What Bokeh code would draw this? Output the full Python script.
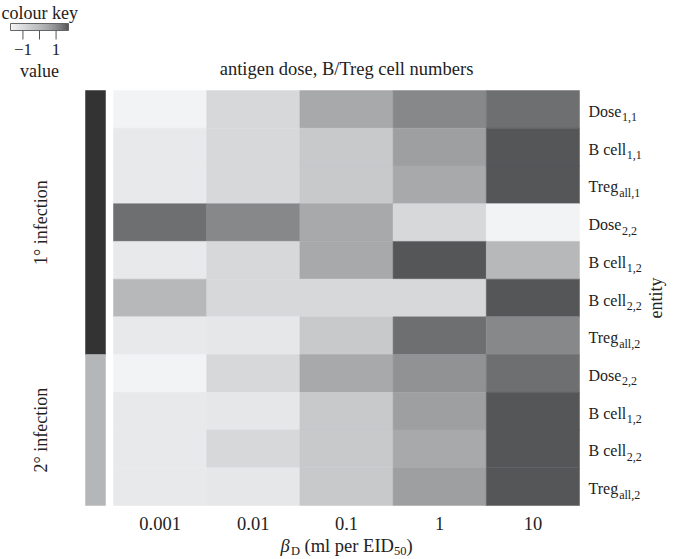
import numpy as np
from bokeh.plotting import figure
from bokeh.models import Range1d, ColumnDataSource, LinearColorMapper
from bokeh.transform import transform
from bokeh.core.properties import value
from bokeh.embed import file_html
from bokeh.resources import INLINE

# ---------------- data ----------------
doses = ["0.001", "0.01", "0.1", "1", "10"]
entity_main = ["Dose", "B cell", "Treg", "Dose", "B cell", "B cell", "Treg",
               "Dose", "B cell", "B cell", "Treg"]
entity_sub = ["1,1", "1,1", "all,1", "2,2", "1,2", "2,2", "all,2",
              "2,2", "1,2", "2,2", "all,2"]
groups = ["1\u00b0 infection", "2\u00b0 infection"]
group_sizes = [7, 4]
group_colors = ["#333333", "#b5b6b8"]

row_dose11 = [-1.68, -1.11, -0.11, 0.60, 1.13]
row_bcell11 = [-1.47, -1.11, -0.79, 0.11, 1.66]
row_treg1 = [-1.47, -1.11, -0.79, -0.11, 1.66]
row_dose22a = [1.13, 0.60, -0.11, -1.11, -1.68]
row_bcell12a = [-1.47, -1.11, -0.11, 1.66, -0.43]
row_bcell22a = [-0.43, -1.11, -1.11, -1.11, 1.66]
row_treg2a = [-1.47, -1.43, -0.79, 1.13, 0.60]
row_dose22b = [-1.68, -1.11, -0.11, 0.38, 1.13]
row_bcell12b = [-1.47, -1.43, -0.79, 0.11, 1.66]
row_bcell22b = [-1.47, -1.11, -0.79, -0.11, 1.66]
row_treg2b = [-1.47, -1.43, -0.79, 0.11, 1.66]
rows = [row_dose11, row_bcell11, row_treg1, row_dose22a, row_bcell12a, row_bcell22a,
        row_treg2a, row_dose22b, row_bcell12b, row_bcell22b, row_treg2b]

key_low, key_high = -1.75, 1.75
key_ticks = [-1, 0, 1]
key_tick_labels = ["\u22121", "", "1"]

# ---------------- styling / layout ----------------
FONT = "Liberation Serif"
TXT = "#222222"
W, H = 673, 559
HX0, HX1 = 113, 579
HY0, HY1 = 90, 505
CW = (HX1 - HX0) / 5
RH = (HY1 - HY0) / 11


def X(px):
    return (px - HX0) / CW


def Y(py):
    return (py - HY0) / RH


# Times / Liberation Serif advance widths (per 1000 em)
TW = {'D': 722, 'o': 500, 's': 389, 'e': 444, 'B': 667, ' ': 250, '\u00a0': 250,
      'c': 444, 'l': 278, 'T': 611, 'r': 333, 'g': 500, '(': 333, ')': 333,
      'm': 778, 'p': 500, 'E': 611, 'I': 333, '5': 500, '0': 500}


def tw(s, size):
    return sum(TW.get(ch, 500) for ch in s) * size / 1000.0


palette = []
for i in range(256):
    g = 245 - 164 * i / 255.0
    gi = int(round(g))
    palette.append("#%02x%02x%02x" % (gi, min(255, gi + 1), min(255, gi + 3)))
mapper = LinearColorMapper(palette=palette, low=key_low, high=key_high)

p = figure(width=W, height=H, output_backend="svg", toolbar_location=None,
           x_range=Range1d(-HX0 / CW, (W - HX0) / CW),
           y_range=Range1d((H - HY0) / RH, -HY0 / RH),
           x_axis_location=None, y_axis_location=None,
           min_border=0, min_border_left=0, min_border_right=0,
           min_border_top=0, min_border_bottom=0)
p.grid.visible = False
p.outline_line_color = None
p.background_fill_color = "white"
p.border_fill_color = "white"

# heatmap
xs, ys, vs = [], [], []
for r, rowv in enumerate(rows):
    for c, v in enumerate(rowv):
        xs.append(c + 0.5)
        ys.append(r + 0.5)
        vs.append(v)
src = ColumnDataSource(dict(x=xs, y=ys, v=vs))
p.rect(x="x", y="y", width=1, height=1, source=src,
       fill_color=transform("v", mapper), line_color=transform("v", mapper),
       line_width=0.5)

# group side bar
tops = list(np.cumsum([0] + group_sizes[:-1]))
bottoms = list(np.cumsum(group_sizes))
p.quad(left=X(85), right=X(105), top=tops, bottom=bottoms,
       fill_color=group_colors, line_color=group_colors, line_width=0.5)
mids = [(t + b) / 2 for t, b in zip(tops, bottoms)]
p.text(x=X(40), y=mids, text=groups, angle=np.pi / 2,
       text_align="center", text_baseline="middle",
       text_font=value(FONT), text_font_size="18px", text_color=TXT)

# row labels with subscripts
ry = [i + 0.5 for i in range(len(entity_main))]
p.text(x=5, y=ry, text=entity_main, x_offset=9, y_offset=2,
       text_align="left", text_baseline="middle",
       text_font=value(FONT), text_font_size="16px", text_color=TXT)
sub_off = [9 + tw(s, 16) + 0.5 for s in entity_main]
p.text(x=5, y=ry, text=entity_sub, x_offset=sub_off, y_offset=8,
       text_align="left", text_baseline="middle",
       text_font=value(FONT), text_font_size="12px", text_color=TXT)

p.text(x=X(655), y=5.5, text=["entity"], angle=np.pi / 2,
       text_align="center", text_baseline="middle",
       text_font=value(FONT), text_font_size="18px", text_color=TXT)

# x tick labels
p.text(x=[i + 0.5 for i in range(len(doses))], y=Y(523), text=doses,
       text_align="center", text_baseline="middle",
       text_font=value(FONT), text_font_size="18.5px", text_color=TXT)

# x axis label: beta_D (ml per EID_50)
parts = [("\u03b2", 18.5, "italic", 0), ("D", 12.5, "normal", 5),
         ("\u00a0(ml per EID", 18.5, "normal", 0), ("50", 12.5, "normal", 5),
         (")", 18.5, "normal", 0)]
widths = [10.5 if t == "\u03b2" else tw(t, s) for t, s, _, _ in parts]
total = sum(widths)
xo = -total / 2
for (t, s, st, dy), wdt in zip(parts, widths):
    p.text(x=2.5, y=Y(545), text=[t], x_offset=xo, y_offset=dy,
           text_align="left", text_baseline="middle",
           text_font=value(FONT), text_font_size=f"{s}px",
           text_font_style=st, text_color=TXT)
    xo += wdt

# title
p.text(x=2.5, y=Y(68), text=["antigen dose, B/Treg cell numbers"],
       text_align="center", text_baseline="middle",
       text_font=value(FONT), text_font_size="18.5px", text_color=TXT)

# colour key
KX0, KX1, KY0, KY1 = 10, 68, 23, 30


def KX(v):
    return X(KX0 + (v - key_low) / (key_high - key_low) * (KX1 - KX0))


ramp = list(np.linspace(key_low, key_high, 60))
step = (key_high - key_low) / 59
p.quad(left=[KX(v - step / 2 if v > key_low else v) for v in ramp],
       right=[KX(v + step / 2 if v < key_high else v) for v in ramp],
       top=Y(KY0), bottom=Y(KY1),
       fill_color=[palette[min(255, int((v - key_low) / (key_high - key_low) * 255))] for v in ramp],
       line_color=None)
p.quad(left=KX(key_low), right=KX(key_high), top=Y(KY0), bottom=Y(KY1),
       fill_color=None, line_color="#666666", line_width=1)
p.segment(x0=[KX(t) for t in key_ticks], x1=[KX(t) for t in key_ticks],
          y0=Y(KY1), y1=Y(KY1 + 9), line_color="#555555", line_width=1)
p.text(x=[KX(t) for t in key_ticks], y=Y(49), text=key_tick_labels,
       text_align="center", text_baseline="middle",
       text_font=value(FONT), text_font_size="17px", text_color=TXT)
p.text(x=X(1), y=Y(12), text=["colour key"],
       text_align="left", text_baseline="middle",
       text_font=value(FONT), text_font_size="18px", text_color=TXT)
p.text(x=KX(0), y=Y(70), text=["value"],
       text_align="center", text_baseline="middle",
       text_font=value(FONT), text_font_size="18px", text_color=TXT)

open("out.html", "w").write(file_html(p, INLINE))
